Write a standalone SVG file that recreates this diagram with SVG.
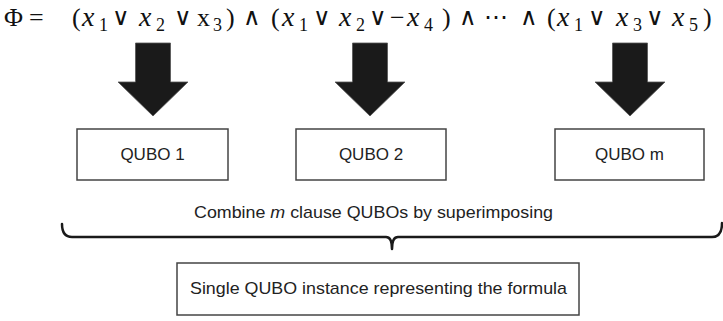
<svg xmlns="http://www.w3.org/2000/svg" width="723" height="321" viewBox="0 0 723 321">
<style>
.f{font-family:"Liberation Serif","DejaVu Serif",serif;font-size:26px;fill:#111}
.i{font-style:italic;font-size:28px}
.s{font-size:18px}
.sym{font-family:"DejaVu Sans","Liberation Sans",sans-serif;font-size:24px;font-weight:200;text-anchor:middle}
.box{fill:#fff;stroke:#444;stroke-width:1.5}
.lbl{font-family:"Liberation Sans","Noto Sans",sans-serif;font-size:17px;fill:#222}
.arrow{fill:#1a1a1a;stroke:#555;stroke-width:0.8}
.brace{fill:none;stroke:#1a1a1a;stroke-width:2.5;stroke-linejoin:round;stroke-linecap:round}
</style>
<defs>
<path id="bigArrow" d="M-17.5,0 H17.5 V39 H35 L0,73 L-35,39 H-17.5 Z"/>
</defs>
<g id="formula">
<text class="f" x="4" y="26" font-size="25">Φ</text>
<text class="f" x="29" y="26" font-size="28">=</text>
<text class="f" x="72" y="26">(</text>
<text class="f i" x="82" y="26">x</text>
<text class="f s" x="99" y="31">1</text>
<text class="f sym" x="121" y="25">∨</text>
<text class="f i" x="139" y="26">x</text>
<text class="f s" x="156" y="31">2</text>
<text class="f sym" x="183" y="25">∨</text>
<text class="f" x="197" y="26" font-size="28">x</text>
<text class="f s" x="213" y="31">3</text>
<text class="f" x="226" y="26">)</text>
<text class="f sym" x="252" y="25">∧</text>
<text class="f" x="271" y="26">(</text>
<text class="f i" x="282" y="26">x</text>
<text class="f s" x="299" y="31">1</text>
<text class="f sym" x="322" y="25">∨</text>
<text class="f i" x="339" y="26">x</text>
<text class="f s" x="356" y="31">2</text>
<text class="f sym" x="378" y="25">∨</text>
<text class="f" x="390" y="26">−</text>
<text class="f i" x="407" y="26">x</text>
<text class="f s" x="424" y="31">4</text>
<text class="f" x="442" y="26">)</text>
<text class="f sym" x="468" y="25">∧</text>
<text class="f sym" x="496" y="25">⋯</text>
<text class="f sym" x="529" y="25">∧</text>
<text class="f" x="547" y="26">(</text>
<text class="f i" x="557" y="26">x</text>
<text class="f s" x="574" y="31">1</text>
<text class="f sym" x="597" y="25">∨</text>
<text class="f i" x="616" y="26">x</text>
<text class="f s" x="633" y="31">3</text>
<text class="f sym" x="655" y="25">∨</text>
<text class="f i" x="672" y="26">x</text>
<text class="f s" x="689" y="31">5</text>
<text class="f" x="703" y="26">)</text>
</g>
<g id="connectors">
<use href="#bigArrow" class="arrow" transform="translate(153,43)"/>
<use href="#bigArrow" class="arrow" transform="translate(370,43)"/>
<use href="#bigArrow" class="arrow" transform="translate(630,43)"/>
<path class="brace" d="M62,224 Q62,237 72,237 H386 Q392,237 392,249 Q392,237 398,237 H712 Q722,237 722,223"/>
</g>
<g id="qubo1">
<rect class="box" x="77" y="129" width="151" height="51"/>
<text class="lbl" x="152.5" y="160" text-anchor="middle">QUBO 1</text>
</g>
<g id="qubo2">
<rect class="box" x="296" y="129" width="150" height="51"/>
<text class="lbl" x="371" y="160" text-anchor="middle">QUBO 2</text>
</g>
<g id="qubom">
<rect class="box" x="555" y="129" width="149" height="51"/>
<text class="lbl" x="629.5" y="160" text-anchor="middle">QUBO m</text>
</g>
<g id="combine-label">
<text class="lbl" x="194" y="218" textLength="359" lengthAdjust="spacingAndGlyphs">Combine <tspan font-style="italic">m</tspan> clause QUBOs by superimposing</text>
</g>
<g id="single-qubo">
<rect class="box" x="177" y="263" width="402" height="52"/>
<text class="lbl" x="190" y="294" textLength="377" lengthAdjust="spacingAndGlyphs">Single QUBO instance representing the formula</text>
</g>
</svg>
